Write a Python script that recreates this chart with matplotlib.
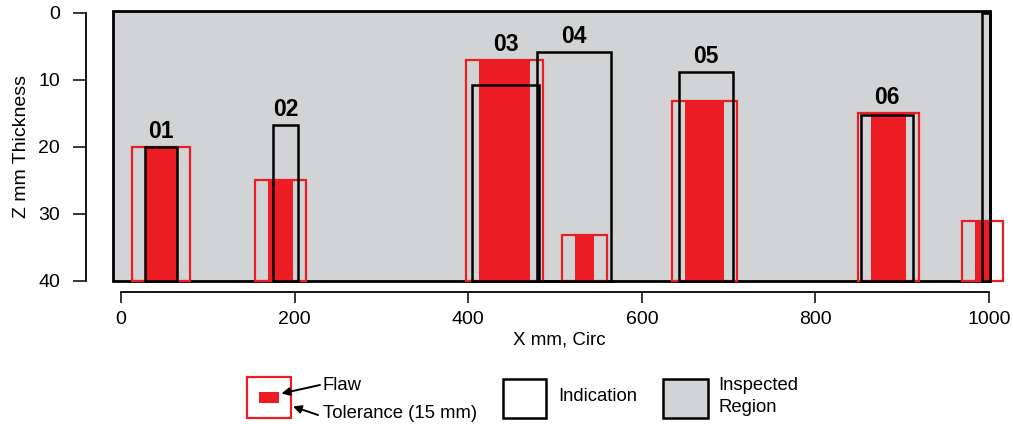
import matplotlib
matplotlib.use("Agg")
import matplotlib.pyplot as plt
from matplotlib.patches import Rectangle

plt.rcParams['font.family'] = ['Liberation Sans', 'DejaVu Sans']

# ---------------- data ----------------
flaw_x0 = [28, 169, 412, 523, 650, 864, 984]
flaw_x1 = [64, 198, 471, 545, 695, 904, 1001]
flaw_top = [20.0, 25.0, 7.1, 33.2, 13.1, 15.0, 31.0]
tolerance_mm = 15

ind_labels = ['01', '02', '03', '04', '05', '06', '']
ind_x0 = [28, 175.5, 404.7, 479, 643, 852.5, 992]
ind_x1 = [65, 204, 481.6, 564.5, 705, 912, 1001]
ind_top = [20.0, 16.7, 10.8, 5.8, 8.8, 15.2, 0.0]
# which flaw sits under each labelled indication (for label height)
ind_flaw = [0, 1, 2, 3, 4, 5, 6]

region_x = [-9, 1001]
region_z = [-0.3, 40]

x_ticks = [0, 200, 400, 600, 800, 1000]
z_ticks = [0, 10, 20, 30, 40]

RED = '#EC1C24'
GRAY = '#D1D3D4'

# ---------------- figure ----------------
W, H = 1013, 424
fig = plt.figure(figsize=(W / 100, H / 100), dpi=100)
ax = fig.add_axes([112.3 / W, (H - 284.35) / H, (1006.4 - 112.3) / W, 275.0 / H])
ax.set_xlim(-10, 1020)
ax.set_ylim(40.5, -0.5)
ax.patch.set_visible(False)

# inspected region
ax.add_patch(Rectangle((region_x[0], region_z[0]), region_x[1] - region_x[0], region_z[1] - region_z[0],
                       facecolor=GRAY, edgecolor='black', linewidth=2.0, zorder=1))

bottom = region_z[1]
# tolerances & flaws
for x0, x1, zt in zip(flaw_x0, flaw_x1, flaw_top):
    ax.add_patch(Rectangle((x0 - tolerance_mm, zt), (x1 - x0) + 2 * tolerance_mm, bottom - zt,
                           facecolor='none', edgecolor=RED, linewidth=1.6, zorder=2))
    ax.add_patch(Rectangle((x0, zt), x1 - x0, bottom - zt,
                           facecolor=RED, edgecolor='none', linewidth=0, zorder=3))

# indications
for lab, x0, x1, zt, fi in zip(ind_labels, ind_x0, ind_x1, ind_top, ind_flaw):
    ax.add_patch(Rectangle((x0, zt), x1 - x0, bottom - zt,
                           facecolor='none', edgecolor='black', linewidth=1.8, zorder=4))
    if lab:
        top = min(zt, flaw_top[fi])
        ax.annotate(lab, xy=((x0 + x1) / 2, top), xytext=(0, 6.5), textcoords='offset points',
                    ha='center', va='baseline', fontsize=16.5, fontweight='bold', zorder=5)

# axes styling (R-like detached axes)
for s in ['top', 'right']:
    ax.spines[s].set_visible(False)
ax.spines['left'].set_position(('outward', 19))
ax.spines['bottom'].set_position(('outward', 5.5))
ax.spines['left'].set_bounds(0, 40)
ax.spines['bottom'].set_bounds(0, 1000)
for s in ['left', 'bottom']:
    ax.spines[s].set_linewidth(1.3)
ax.set_xticks(x_ticks)
ax.set_yticks(z_ticks)
ax.tick_params(axis='x', length=8, width=1.1, pad=6, labelsize=14)
ax.tick_params(axis='y', length=9.5, width=1.1, pad=9, labelsize=14)
ax.set_xlabel('X mm, Circ', fontsize=13.5, labelpad=2)
ax.set_ylabel('Z mm Thickness', fontsize=14, labelpad=6)

# ---------------- legend (pixel-coordinate overlay) ----------------
lg = fig.add_axes([0, 0, 1, 1])
lg.set_xlim(0, W)
lg.set_ylim(H, 0)
lg.axis('off')

lg.add_patch(Rectangle((247, 377), 44, 40.5, facecolor='white', edgecolor=RED, linewidth=1.6))
lg.add_patch(Rectangle((259, 391.7), 20.3, 11.6, facecolor=RED, edgecolor='none'))
lg.annotate('', xy=(281.5, 393.5), xytext=(320, 385),
            arrowprops=dict(arrowstyle='-|>', color='black', lw=1.4, mutation_scale=12, shrinkA=0, shrinkB=0))
lg.annotate('', xy=(293, 406.5), xytext=(318, 415),
            arrowprops=dict(arrowstyle='-|>', color='black', lw=1.4, mutation_scale=12, shrinkA=0, shrinkB=0))
lg.text(323, 386, 'Flaw', fontsize=13.3, va='center', ha='left')
lg.text(323, 413, 'Tolerance (15 mm)', fontsize=13.3, va='center', ha='left')

lg.add_patch(Rectangle((503, 379), 43, 39.3, facecolor='white', edgecolor='black', linewidth=1.8))
lg.text(558, 396.5, 'Indication', fontsize=13.3, va='center', ha='left')

lg.add_patch(Rectangle((663, 379), 45.3, 39.3, facecolor=GRAY, edgecolor='black', linewidth=1.8))
lg.text(718, 385, 'Inspected', fontsize=13.3, va='center', ha='left')
lg.text(718, 408, 'Region', fontsize=13.3, va='center', ha='left')

fig.savefig('out.png', dpi=100)
